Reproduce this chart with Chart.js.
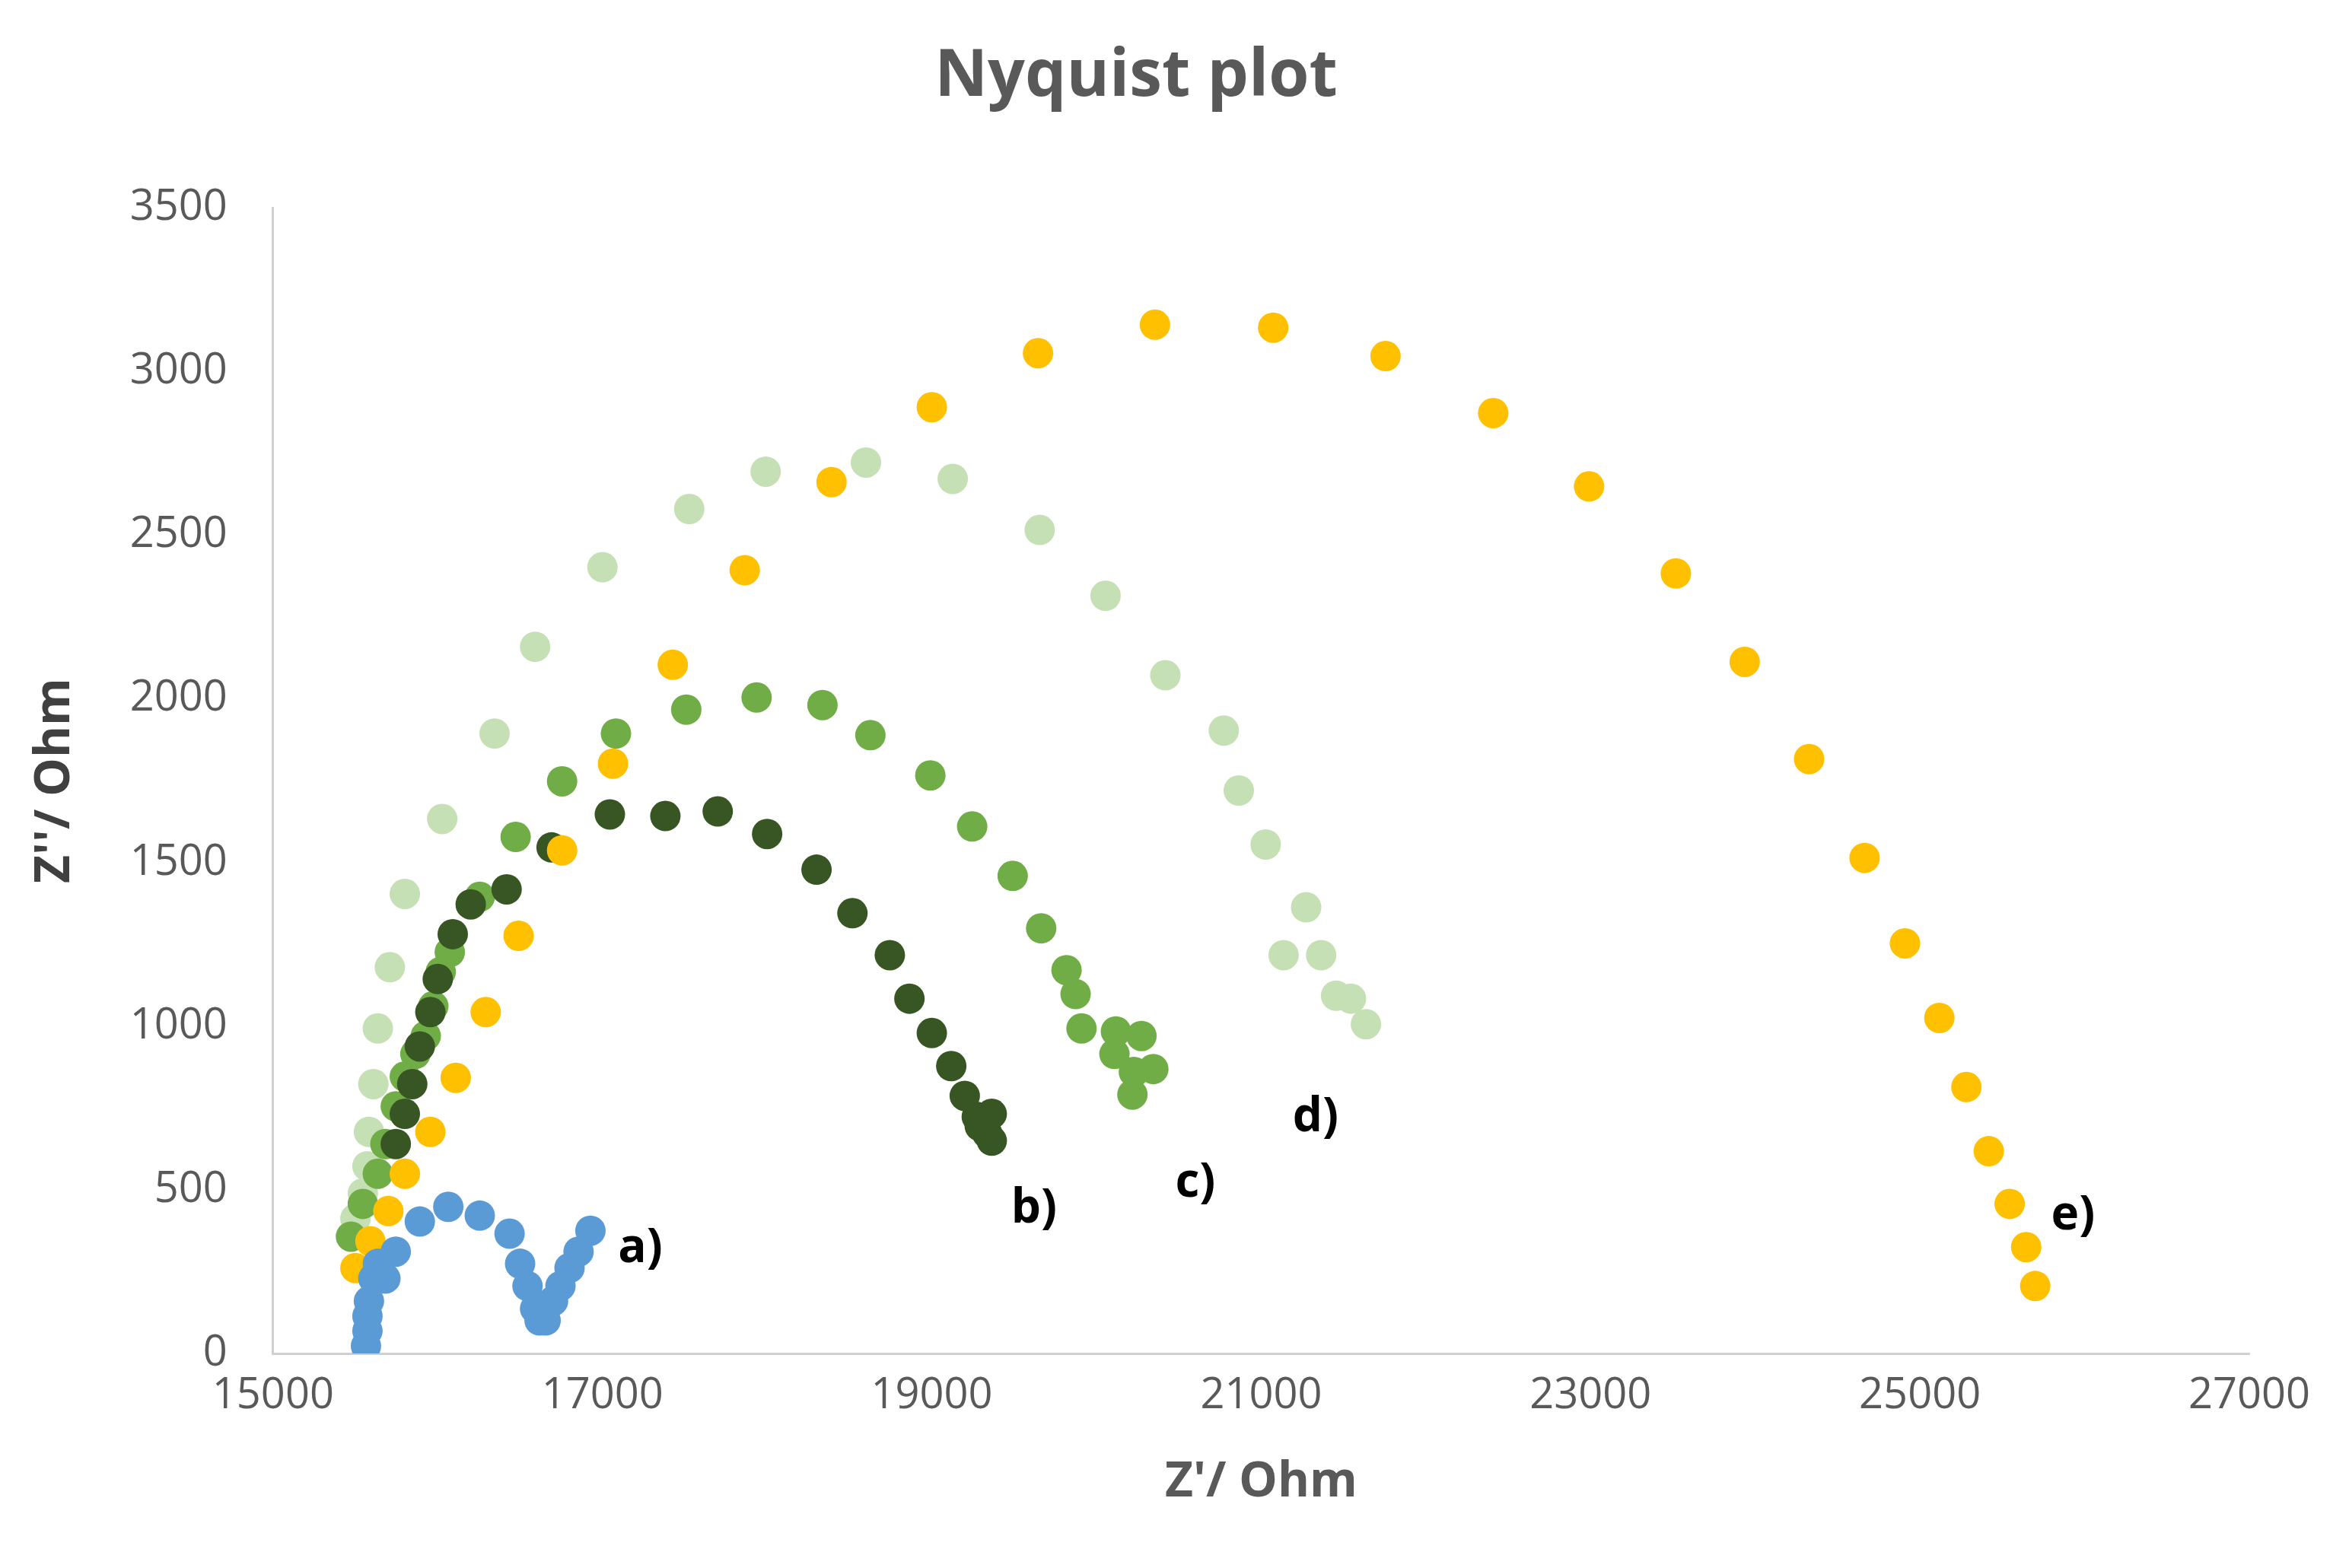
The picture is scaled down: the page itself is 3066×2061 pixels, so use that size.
<!DOCTYPE html>
<html>
<head>
<meta charset="utf-8">
<script src="https://cdn.jsdelivr.net/npm/chart.js@4/dist/chart.umd.min.js"></script>
<style>
  body { margin: 0; background: #fff; }
  canvas { display: block; }
</style>
</head>
<body>
<canvas id="nyquist" width="3066" height="2061"></canvas>
<script>
// ============================
// Data (Z' / Ohm, Z'' / Ohm)
// ============================
const aX = [15564, 15573, 15573, 15582, 15609, 15636, 15682, 15745, 15891, 16064, 16255, 16436, 16500, 16545, 16591, 16618, 16655, 16700, 16745, 16800, 16855, 16927];
const aY = [23, 69, 114, 160, 229, 274, 229, 311, 403, 448, 421, 366, 274, 206, 137, 101, 101, 160, 206, 261, 311, 375];

const bX = [15745, 15800, 15845, 15891, 15955, 16000, 16091, 16200, 16418, 16691, 17045, 17382, 17700, 18000, 18300, 18518, 18745, 18864, 19000, 19118, 19200, 19273, 19336, 19364, 19291, 19364];
const bY = [640, 732, 823, 938, 1043, 1144, 1281, 1372, 1418, 1546, 1647, 1642, 1656, 1587, 1478, 1345, 1217, 1084, 979, 878, 787, 723, 672, 650, 695, 732];

const cX = [15473, 15545, 15636, 15682, 15745, 15800, 15864, 15927, 15973, 16018, 16073, 16255, 16473, 16755, 17082, 17509, 17936, 18336, 18627, 18991, 19245, 19491, 19664, 19818, 19873, 19909, 20118, 20273, 20109, 20227, 20345, 20218];
const cY = [357, 457, 549, 640, 755, 846, 915, 970, 1061, 1166, 1226, 1395, 1578, 1748, 1894, 1967, 2004, 1981, 1889, 1766, 1610, 1459, 1299, 1171, 1098, 993, 984, 970, 915, 860, 869, 791];

const dX = [15500, 15545, 15573, 15582, 15609, 15636, 15709, 15800, 16027, 16345, 16591, 17000, 17527, 17991, 18600, 19127, 19655, 20055, 20418, 20773, 20864, 21027, 21273, 21136, 21364, 21455, 21545, 21636];
const dY = [412, 489, 572, 677, 823, 993, 1180, 1404, 1633, 1894, 2159, 2402, 2580, 2694, 2722, 2672, 2516, 2315, 2072, 1903, 1720, 1555, 1363, 1217, 1217, 1093, 1084, 1006];

const eX = [15500, 15591, 15700, 15800, 15955, 16109, 16291, 16491, 16755, 17064, 17427, 17864, 18391, 19000, 19645, 20355, 21073, 21755, 22409, 22991, 23518, 23936, 24327, 24664, 24909, 25118, 25282, 25418, 25545, 25645, 25700];
const eY = [261, 343, 435, 549, 677, 842, 1043, 1276, 1537, 1802, 2104, 2393, 2662, 2891, 3056, 3143, 3134, 3047, 2873, 2649, 2383, 2113, 1816, 1514, 1253, 1025, 814, 618, 457, 325, 206];

// series tags and where they sit (data units)
const seriesNames = ["a)", "b)", "c)", "d)", "e)"];
const tagX = [17230, 19620, 20600, 21330, 25930];
const tagY = [320, 440, 520, 720, 420];

const xTicks = [15000, 17000, 19000, 21000, 23000, 25000, 27000];

const pts = (xs, ys) => xs.map((x, i) => ({ x: x, y: ys[i] }));

// ============================
// Tag plugin
// ============================
const tagPlugin = {
  id: "tags",
  afterDatasetsDraw(chart) {
    const ctx = chart.ctx;
    const xs = chart.scales.x, ys = chart.scales.y;
    ctx.save();
    ctx.fillStyle = "#000";
    ctx.font = "bold 62px 'Open Sans', sans-serif";
    ctx.textAlign = "center";
    ctx.textBaseline = "middle";
    seriesNames.forEach((n, i) => {
      ctx.fillText(n, xs.getPixelForValue(tagX[i]), ys.getPixelForValue(tagY[i]));
    });
    ctx.restore();
  }
};

// ============================
// Chart
// ============================
const mk = (label, xs, ys, color, order) => ({
  label: label,
  data: pts(xs, ys),
  backgroundColor: color,
  borderColor: color,
  pointRadius: 20,
  pointHoverRadius: 20,
  borderWidth: 0,
  order: order
});

const tickFont = { family: "'Open Sans', sans-serif", size: 56 };

new Chart(document.getElementById("nyquist"), {
  type: "scatter",
  data: {
    datasets: [
      mk("a", aX, aY, "#5B9BD5", 0),
      mk("b", bX, bY, "#375623", 2),
      mk("c", cX, cY, "#70AD47", 3),
      mk("d", dX, dY, "#C5E0B4", 4),
      mk("e", eX, eY, "#FFC000", 1)
    ]
  },
  options: {
    responsive: false,
    animation: false,
    devicePixelRatio: 1,
    layout: { padding: { left: 30, right: 110, top: 30, bottom: 70 } },
    plugins: {
      legend: { display: false },
      tooltip: { enabled: false },
      title: {
        display: true,
        text: "Nyquist plot",
        color: "#595959",
        font: { family: "'Open Sans', sans-serif", size: 86, weight: "bold" },
        padding: { top: 20, bottom: 120 }
      }
    },
    scales: {
      x: {
        type: "linear",
        min: 15000,
        max: 27000,
        afterBuildTicks: (s) => { s.ticks = xTicks.map(v => ({ value: v })); },
        grid: { display: false, drawTicks: false },
        border: { color: "#d0d0d0", width: 3 },
        ticks: { color: "#595959", font: tickFont, padding: 22, callback: (v) => String(v) },
        title: { display: true, text: "Z'/ Ohm", color: "#595959", font: { family: "'Open Sans', sans-serif", size: 64, weight: "bold" }, padding: { top: 20 } }
      },
      y: {
        min: 0,
        max: 3500,
        ticks: { stepSize: 500, color: "#595959", font: tickFont, padding: 60, callback: (v) => String(v) },
        grid: { display: false, drawTicks: false },
        border: { color: "#d0d0d0", width: 3 },
        title: { display: true, text: "Z''/ Ohm", color: "#404040", font: { family: "'Open Sans', sans-serif", size: 64, weight: "bold" }, padding: { bottom: 0 } }
      }
    }
  },
  plugins: [tagPlugin]
});
</script>
</body>
</html>
